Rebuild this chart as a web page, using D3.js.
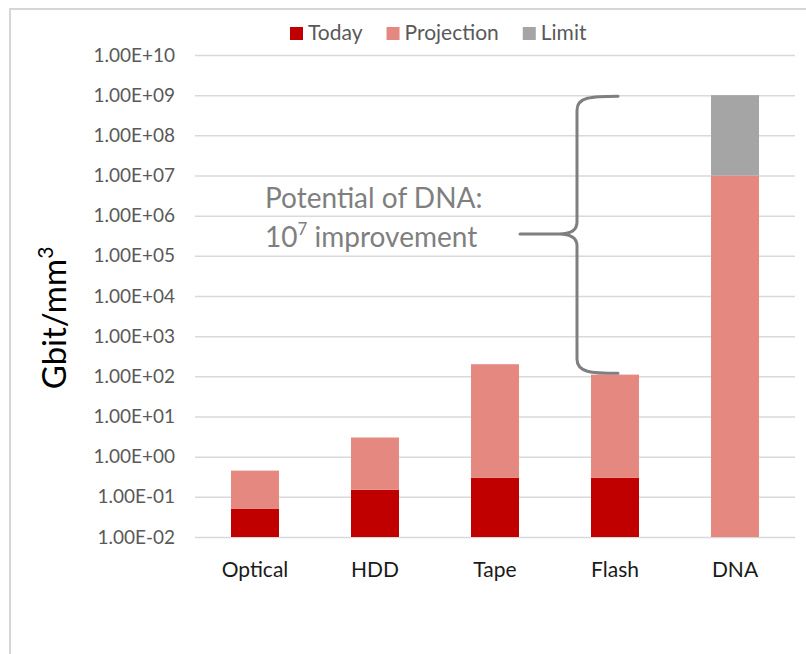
<!DOCTYPE html>
<html>
<head>
<meta charset="utf-8">
<script src="https://cdn.jsdelivr.net/npm/d3@7"></script>
<style>
  html, body { margin: 0; padding: 0; background: #fff; }
  svg { display: block; font-family: Lato, "Open Sans", sans-serif; }
</style>
</head>
<body>
<svg id="chart" width="806" height="654"></svg>
<script>
// ---- data ----
const categories = ["Optical", "HDD", "Tape", "Flash", "DNA"];
const seriesNames = ["Today", "Projection", "Limit"];
const today      = [0.05, 0.15, 0.3, 0.3, 0];
const projection = [0.4, 2.85, 200, 110, 1e7];
const limit      = [0, 0, 0, 0, 9.9e8];
const tickValues = [1e-2, 1e-1, 1e0, 1e1, 1e2, 1e3, 1e4, 1e5, 1e6, 1e7, 1e8, 1e9, 1e10];
const tickLabels = ["1.00E-02","1.00E-01","1.00E+00","1.00E+01","1.00E+02","1.00E+03","1.00E+04",
                    "1.00E+05","1.00E+06","1.00E+07","1.00E+08","1.00E+09","1.00E+10"];
const colors = ["#C00000", "#E5887F", "#A5A5A5"];

const svg = d3.select("#chart");

// frame
svg.append("rect").attr("x", 10).attr("y", 9).attr("width", 820).attr("height", 680)
  .attr("fill", "none").attr("stroke", "#d6d6d6").attr("stroke-width", 2);

const margin = { left: 195, top: 55, right: 11, bottom: 117 };
const W = 806 - margin.left - margin.right;   // 600
const H = 654 - margin.top - margin.bottom;   // 482

const g = svg.append("g").attr("transform", `translate(${margin.left},${margin.top})`);

const x = d3.scaleBand().domain(categories).range([0, W]).paddingInner(0.6).paddingOuter(0.3);
const y = d3.scaleLog().domain([1e-2, 1e10]).range([H, 0]);

// y axis + gridlines
const yAxis = g.append("g")
  .call(d3.axisLeft(y).tickValues(tickValues).tickFormat((d, i) => tickLabels[i])
        .tickSizeInner(-W).tickSizeOuter(0).tickPadding(20));
yAxis.select(".domain").remove();
yAxis.selectAll(".tick line").attr("stroke", "#d9d9d9").attr("stroke-width", 1.5);
yAxis.selectAll(".tick text").attr("fill", "#595959").style("font-size", "19px")
  .style("font-family", "Lato, sans-serif");

// stacked bars
const table = categories.map((c, i) => ({ cat: c, Today: today[i], Projection: projection[i], Limit: limit[i] }));
const stack = d3.stack().keys(seriesNames)(table);
const yc = v => y(Math.max(v, 1e-2));
g.selectAll("g.series").data(stack).join("g").attr("class", "series")
  .attr("fill", (d, i) => colors[i])
  .selectAll("rect").data(d => d.filter(s => s[1] - s[0] > 0)).join("rect")
  .attr("x", d => x(d.data.cat))
  .attr("width", x.bandwidth())
  .attr("y", d => yc(d[1]))
  .attr("height", d => yc(d[0]) - yc(d[1]));

// x axis labels
const xAxis = g.append("g").attr("transform", `translate(0,${H})`)
  .call(d3.axisBottom(x).tickSize(0).tickPadding(25));
xAxis.select(".domain").remove();
xAxis.selectAll(".tick text").attr("fill", "#1a1a1a").style("font-size", "21px")
  .style("font-family", "Lato, sans-serif");

// y axis title
const yt = svg.append("text")
  .attr("transform", "translate(66,318) rotate(-90)")
  .attr("text-anchor", "middle")
  .attr("fill", "#000")
  .style("font-size", "33px");
yt.append("tspan").text("Gbit/mm");
yt.append("tspan").text("3").style("font-size", "21px").attr("dy", -13);

// legend
const legend = svg.append("g");
let lx = 290;
seriesNames.forEach((name, i) => {
  legend.append("rect").attr("x", lx).attr("y", 27).attr("width", 13).attr("height", 13).attr("fill", colors[i]);
  const t = legend.append("text").attr("x", lx + 18).attr("y", 40).attr("fill", "#595959")
    .style("font-size", "21px").text(name);
  lx += 18 + t.node().getComputedTextLength() + 24;
});

// annotation
const ann = svg.append("text").attr("fill", "#7f7f7f").style("font-size", "28px");
ann.append("tspan").attr("x", 265).attr("y", 208).text("Potential of DNA:");
const l2 = svg.append("text").attr("fill", "#7f7f7f").style("font-size", "28px").attr("x", 265).attr("y", 247);
l2.append("tspan").text("10");
l2.append("tspan").text("7").style("font-size", "17px").attr("dy", -12);
l2.append("tspan").text(" improvement").attr("dy", 12);

// brace
const bx = 577, bt = y(1e9) + margin.top + 1, bb = y(1e2) + margin.top - 3, bm = 234, bTip = 520, bEnd = 618;
const path = `M${bEnd},${bt} C${bx + 14},${bt} ${bx},${bt + 1} ${bx},${bt + 14}
  L${bx},${bm - 12} C${bx},${bm - 4} ${bx - 6},${bm} ${bx - 18},${bm} L${bTip},${bm}
  M${bx - 18},${bm} C${bx - 6},${bm} ${bx},${bm + 4} ${bx},${bm + 12}
  L${bx},${bb - 14} C${bx},${bb - 1} ${bx + 14},${bb} ${bEnd},${bb}`;
svg.append("path").attr("d", path).attr("fill", "none").attr("stroke", "#7f7f7f").attr("stroke-width", 3)
  .attr("stroke-linecap", "round");
</script>
</body>
</html>
